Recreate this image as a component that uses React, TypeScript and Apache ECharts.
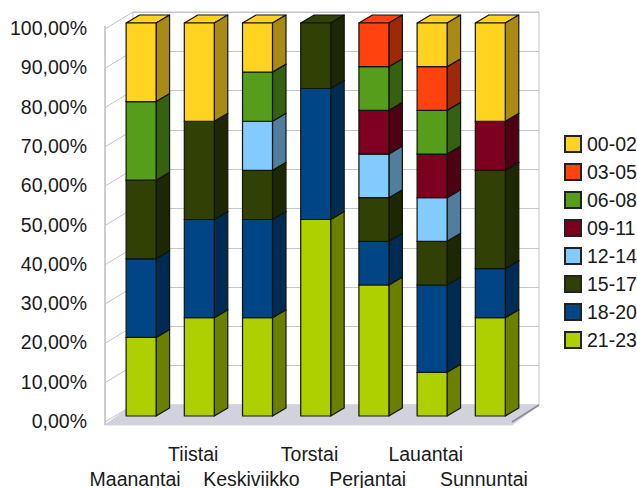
import React, { useEffect, useRef } from "react";
import * as echarts from "echarts";

const days = ["Maanantai", "Tiistai", "Keskiviikko", "Torstai", "Perjantai", "Lauantai", "Sunnuntai"];
const yTicks = [0, 10, 20, 30, 40, 50, 60, 70, 80, 90, 100];
const legendOrder = ["00-02", "03-05", "06-08", "09-11", "12-14", "15-17", "18-20", "21-23"];

// bottom of the stack first
const s2123 = [20, 25, 25, 50, 33.33, 11.11, 25];
const s1820 = [20, 25, 25, 33.33, 11.11, 22.22, 12.5];
const s1517 = [20, 25, 12.5, 16.67, 11.11, 11.11, 25];
const s1214 = [0, 0, 12.5, 0, 11.11, 11.11, 0];
const s0911 = [0, 0, 0, 0, 11.11, 11.11, 12.5];
const s0608 = [20, 0, 12.5, 0, 11.11, 11.11, 0];
const s0305 = [0, 0, 0, 0, 11.12, 11.11, 0];
const s0002 = [20, 25, 12.5, 0, 0, 11.12, 25];

const stacks = [
  { name: "21-23", values: s2123, color: "#AECF00", side: "#6B7F00" },
  { name: "18-20", values: s1820, color: "#004586", side: "#002B53" },
  { name: "15-17", values: s1517, color: "#314004", side: "#1E2703" },
  { name: "12-14", values: s1214, color: "#83CAFF", side: "#517D9E" },
  { name: "09-11", values: s0911, color: "#7E0021", side: "#4E0014" },
  { name: "06-08", values: s0608, color: "#579D1C", side: "#366111" },
  { name: "03-05", values: s0305, color: "#FF420E", side: "#9E2909" },
  { name: "00-02", values: s0002, color: "#FFD320", side: "#A88A14" },
];

const DX = 13.5;
const DY = 8;
const EDGE = "#10140a";

function buildBarSeries() {
  const running = days.map(() => 0);
  return stacks.map((st, si) => {
    const data: number[][] = [];
    st.values.forEach((v, i) => {
      if (v > 0) {
        data.push([i, running[i], running[i] + v]);
        running[i] += v;
      }
    });
    return {
      type: "custom",
      name: st.name,
      xAxisIndex: 0,
      yAxisIndex: 0,
      z: 5 + si,
      silent: true,
      itemStyle: { color: st.color, borderColor: "#222", borderWidth: 1 },
      encode: { x: 0, y: [1, 2] },
      data,
      renderItem: (_p: any, api: any) => {
        const i = api.value(0);
        const a = api.coord([i, api.value(1)]);
        const b = api.coord([i, api.value(2)]);
        const w = api.size([1, 0])[0] * 0.515;
        const x0 = a[0] - w / 2;
        const x1 = a[0] + w / 2;
        const yb = a[1];
        const yt = b[1];
        const line = { stroke: EDGE, lineWidth: 1.2, lineJoin: "round" };
        return {
          type: "group",
          children: [
            {
              type: "polygon",
              shape: { points: [[x0, yt], [x1, yt], [x1 + DX, yt - DY], [x0 + DX, yt - DY]] },
              style: { fill: st.color, ...line },
            },
            {
              type: "polygon",
              shape: { points: [[x1, yb], [x1 + DX, yb - DY], [x1 + DX, yt - DY], [x1, yt]] },
              style: { fill: st.side, ...line },
            },
            {
              type: "rect",
              shape: { x: x0, y: yt, width: w, height: yb - yt },
              style: { fill: st.color, ...line },
            },
          ],
        };
      },
    };
  });
}

const wallSeries = {
  type: "custom",
  name: "wall",
  xAxisIndex: 1,
  yAxisIndex: 1,
  z: 2,
  silent: true,
  encode: { x: 0, y: 1 },
  data: yTicks.map((t) => [0, t]),
  renderItem: (_p: any, api: any) => {
    const t = api.value(1);
    const p = api.coord([0, t]);
    const q = api.coord([1, t]);
    const children: any[] = [
      {
        type: "line",
        shape: { x1: p[0], y1: p[1], x2: p[0] - 28, y2: p[1] + 17 },
        style: { stroke: "#c4c4cc", lineWidth: 1 },
      },
    ];
    if (t === 0) {
      children.push({
        type: "polygon",
        shape: { points: [[p[0], p[1]], [q[0], q[1]], [q[0] - 27, q[1] + 20], [p[0] - 28, p[1] + 20]] },
        style: { fill: "#d2d2df", stroke: "#d2d2df" },
      });
      children.push({
        type: "line",
        shape: { x1: q[0], y1: q[1], x2: q[0] - 27, y2: q[1] + 17 },
        style: { stroke: "#8a8a96", lineWidth: 1.5 },
      });
      const top = api.coord([0, 100]);
      children.push({
        type: "line",
        shape: { x1: p[0] - 28, y1: p[1] + 20, x2: top[0] - 28, y2: top[1] + 14 },
        style: { stroke: "#bdbdbd", lineWidth: 1.5 },
      });
    }
    return { type: "group", children };
  },
};

export default function App() {
  const ref = useRef<HTMLDivElement>(null);
  useEffect(() => {
    const chart = echarts.init(ref.current!, null, { renderer: "svg" });
    const font = "'Liberation Sans', Arial, sans-serif";
    chart.setOption({
      animation: false,
      backgroundColor: "#ffffff",
      textStyle: { fontFamily: font },
      grid: [
        { left: 112, width: 407.4, top: 23, height: 393, outerBoundsMode: "none" },
        { left: 133, width: 406, top: 12, height: 393, show: true, backgroundColor: "#ffffff", borderColor: "#c4c4cc", borderWidth: 1, outerBoundsMode: "none" },
        { left: 106, width: 407, top: 28, height: 393, outerBoundsMode: "none" },
      ],
      xAxis: [
        { type: "category", gridIndex: 0, data: days, show: false },
        { type: "value", gridIndex: 1, min: 0, max: 1, show: false },
        {
          type: "category",
          gridIndex: 2,
          data: days,
          axisLine: { show: false },
          axisTick: { show: false },
          axisLabel: {
            show: true,
            interval: 0,
            margin: 20,
            fontSize: 19.5,
            color: "#1a1a1a",
            fontFamily: font,
            lineHeight: 25,
            verticalAlign: "top",
            formatter: (v: string) => (days.indexOf(v) % 2 === 1 ? v + "\n " : " \n" + v),
          },
        },
      ],
      yAxis: [
        { type: "value", gridIndex: 0, min: 0, max: 100, show: false },
        {
          type: "value",
          gridIndex: 1,
          min: 0,
          max: 100,
          interval: 10,
          axisLine: { show: false },
          axisTick: { show: false },
          axisLabel: { show: false },
          splitLine: { show: true, lineStyle: { color: "#c4c4cc", width: 1 } },
        },
        {
          type: "value",
          gridIndex: 2,
          min: 0,
          max: 100,
          interval: 10,
          position: "left",
          offset: 11,
          axisLine: { show: false },
          axisTick: { show: false },
          splitLine: { show: false },
          axisLabel: {
            margin: 8,
            fontSize: 19.5,
            color: "#1a1a1a",
            fontFamily: font,
            formatter: (v: number) => v.toFixed(2).replace(".", ",") + "%",
          },
        },
      ],
      legend: {
        show: true,
        left: 564,
        top: 134,
        orient: "vertical",
        data: legendOrder,
        icon: "rect",
        itemWidth: 16,
        itemHeight: 16,
        itemGap: 8,
        selectedMode: false,
        padding: 0,
        textStyle: { fontSize: 19.5, color: "#1a1a1a", fontFamily: font, padding: [0, 0, 0, 1] },
      },
      series: [wallSeries, ...buildBarSeries()],
    });
    return () => chart.dispose();
  }, []);
  return <div ref={ref} style={{ position: "fixed", left: 0, top: 0, width: 637, height: 488 }} />;
}
